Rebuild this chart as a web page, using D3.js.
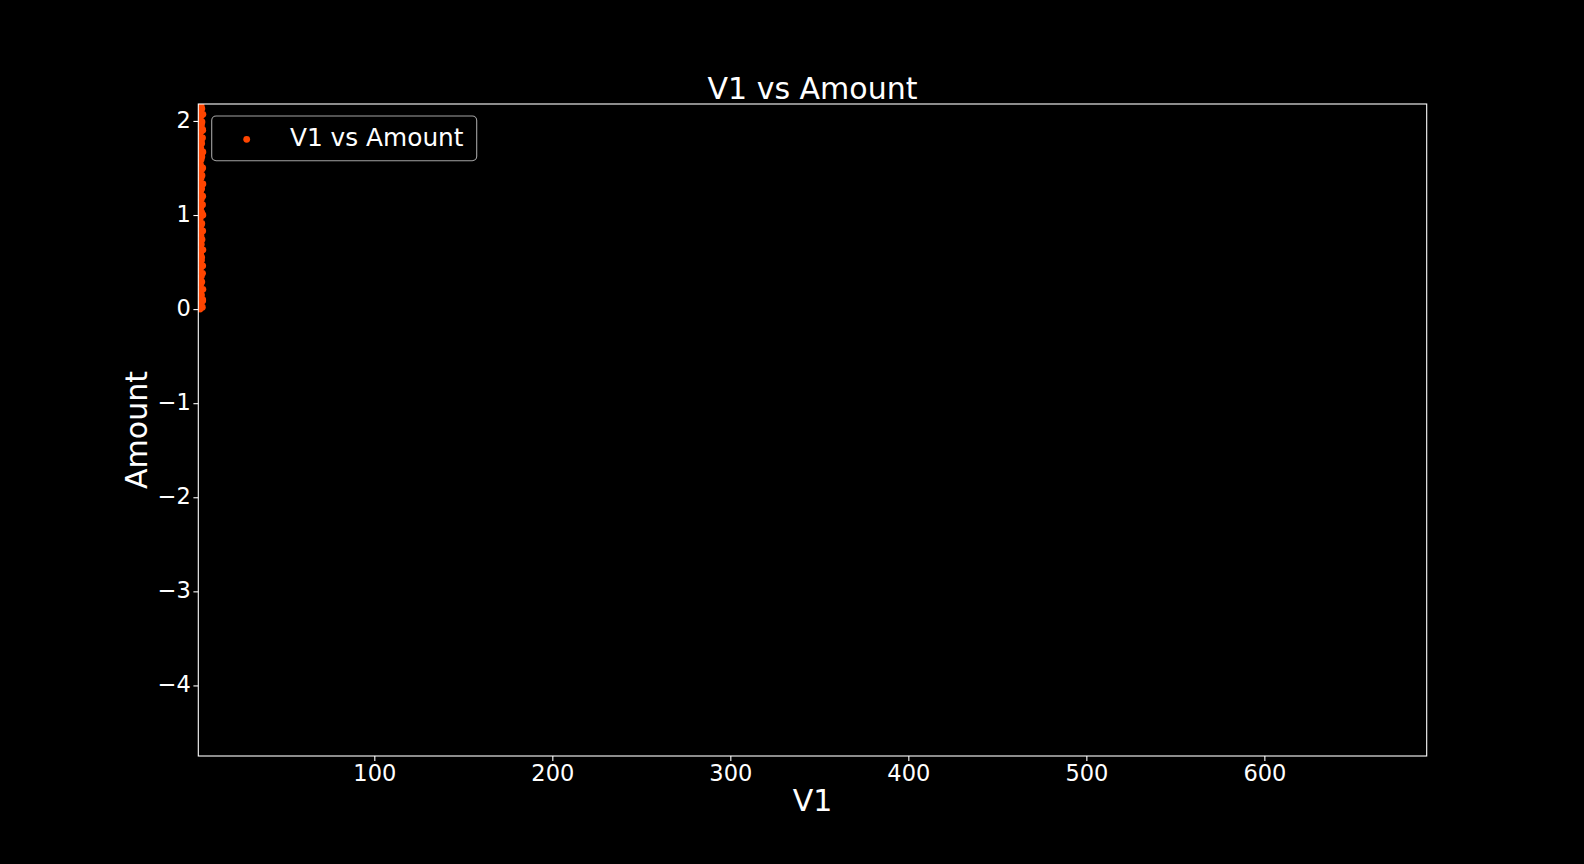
<!DOCTYPE html>
<html>
<head>
<meta charset="utf-8">
<script src="https://cdn.jsdelivr.net/npm/d3@7"></script>
<style>
  html, body { margin: 0; padding: 0; background: #000; }
  svg { display: block; font-family: "DejaVu Sans", sans-serif; }
</style>
</head>
<body>
<svg id="chart" width="1584" height="864"></svg>
<script>
// ---- data ----
const chartTitle = "V1 vs Amount";
const xLabel = "V1";
const yLabel = "Amount";
const seriesName = "V1 vs Amount";
const xTicks = [100, 200, 300, 400, 500, 600];
const yTicks = [-4, -3, -2, -1, 0, 1, 2];
const xDomain = [1.12, 691.2];
const yDomain = [-4.75, 2.18];

const v1Values = [
  2.1, 3.4, 1.8, 2.7, 3.6, 1.5, 2.9, 2.3, 3.7, 1.9, 2.6, 3.1, 1.4, 2.8, 3.5,
  2.0, 2.5, 3.6, 1.7, 2.9, 3.0, 2.2, 1.6, 3.7, 2.4, 2.8, 1.9, 3.2, 2.6, 1.5,
  3.6, 2.1, 2.7, 3.1, 1.8, 2.3, 3.7, 2.9, 1.6, 2.5, 3.5, 2.0, 2.8, 3.6, 1.7,
  2.4, 3.0, 2.2, 3.7, 1.9, 2.6, 3.2, 1.5, 2.9, 3.6, 2.3, 1.8, 2.7, 3.1, 2.1,
  3.7, 2.5, 1.6, 3.0, 2.8, 3.5, 1.9, 2.4, 3.6, 2.0, 2.9, 3.2, 1.7, 2.6, 3.7,
  2.2, 3.1, 2.7, 1.8, 3.6, 2.5, 3.0, 2.3, 3.5
];
const amountValues = [
  0.00, 0.02, 0.05, 0.07, 0.10, 0.13, 0.15, 0.19, 0.21, 0.24, 0.27, 0.29, 0.33, 0.35, 0.38,
  0.41, 0.44, 0.46, 0.49, 0.52, 0.55, 0.57, 0.61, 0.63, 0.66, 0.69, 0.72, 0.74, 0.78, 0.80,
  0.83, 0.86, 0.89, 0.91, 0.95, 0.97, 1.00, 1.03, 1.06, 1.08, 1.11, 1.14, 1.17, 1.20, 1.22,
  1.25, 1.28, 1.31, 1.33, 1.37, 1.39, 1.42, 1.45, 1.48, 1.50, 1.54, 1.56, 1.59, 1.62, 1.65,
  1.67, 1.71, 1.73, 1.76, 1.79, 1.82, 1.84, 1.88, 1.90, 1.93, 1.96, 1.99, 2.01, 2.05, 2.07,
  2.10, 2.13, 2.16, 2.19, 0.09, 0.58, 1.02, 1.52, 1.91
];

// ---- layout ----
const svg = d3.select("#chart");
const W = 1584, H = 864;
const plot = { left: 198.3, right: 1426.7, top: 104, bottom: 756 };
const fg = "#ffffff";
const pointColor = "#ff4500";

svg.append("rect").attr("width", W).attr("height", H).attr("fill", "#000");

const x = d3.scaleLinear().domain(xDomain).range([plot.left, plot.right]);
const y = d3.scaleLinear().domain(yDomain).range([plot.bottom, plot.top]);

svg.append("defs").append("clipPath").attr("id", "clip")
  .append("rect")
  .attr("x", plot.left).attr("y", plot.top)
  .attr("width", plot.right - plot.left).attr("height", plot.bottom - plot.top);

// points
const pts = v1Values.map((v, i) => ({ x: v, y: amountValues[i] }));
svg.append("g").attr("clip-path", "url(#clip)")
  .selectAll("circle").data(pts).join("circle")
  .attr("cx", d => x(d.x)).attr("cy", d => y(d.y))
  .attr("r", 3.4).attr("fill", pointColor);

// axes
const xAxis = d3.axisBottom(x).tickValues(xTicks).tickSize(4.9).tickPadding(4.9).tickFormat(d3.format("d"));
const yAxis = d3.axisLeft(y).tickValues(yTicks).tickSize(4.9).tickPadding(2.6).tickFormat(d3.format("d"));

const gx = svg.append("g").attr("transform", `translate(0,${plot.bottom})`).call(xAxis);
const gy = svg.append("g").attr("transform", `translate(${plot.left},0)`).call(yAxis);
[gx, gy].forEach(g => {
  g.select(".domain").remove();
  g.selectAll(".tick line").attr("stroke", fg).attr("stroke-width", 1.1);
  g.selectAll(".tick text").attr("fill", fg).attr("font-size", 22.5)
    .attr("font-family", "DejaVu Sans, sans-serif");
});
gx.selectAll(".tick text").attr("dy", "0.66em");
gy.selectAll(".tick text").attr("dy", "0.27em");

// spines
svg.append("rect")
  .attr("x", plot.left).attr("y", plot.top)
  .attr("width", plot.right - plot.left).attr("height", plot.bottom - plot.top)
  .attr("fill", "none").attr("stroke", fg).attr("stroke-width", 1.1);

// title & labels
svg.append("text").attr("x", (plot.left + plot.right) / 2).attr("y", 99)
  .attr("text-anchor", "middle").attr("fill", fg).attr("font-size", 30)
  .text(chartTitle);
svg.append("text").attr("x", (plot.left + plot.right) / 2).attr("y", 811)
  .attr("text-anchor", "middle").attr("fill", fg).attr("font-size", 30)
  .text(xLabel);
svg.append("text")
  .attr("transform", `translate(147.3, ${(plot.top + plot.bottom) / 2}) rotate(-90)`)
  .attr("text-anchor", "middle").attr("fill", fg).attr("font-size", 30)
  .text(yLabel);

// legend
const lg = svg.append("g");
lg.append("rect")
  .attr("x", 211.7).attr("y", 116).attr("width", 265).attr("height", 44.7)
  .attr("rx", 4.4).attr("ry", 4.4)
  .attr("fill", "#000").attr("fill-opacity", 0.8)
  .attr("stroke", "#cccccc").attr("stroke-opacity", 0.8).attr("stroke-width", 1.1);
lg.append("circle").attr("cx", 246.7).attr("cy", 139.3).attr("r", 3.4).attr("fill", pointColor);
lg.append("text").attr("x", 290).attr("y", 137.3).attr("dy", "0.35em")
  .attr("fill", fg).attr("font-size", 24.8).text(seriesName);
</script>
</body>
</html>
